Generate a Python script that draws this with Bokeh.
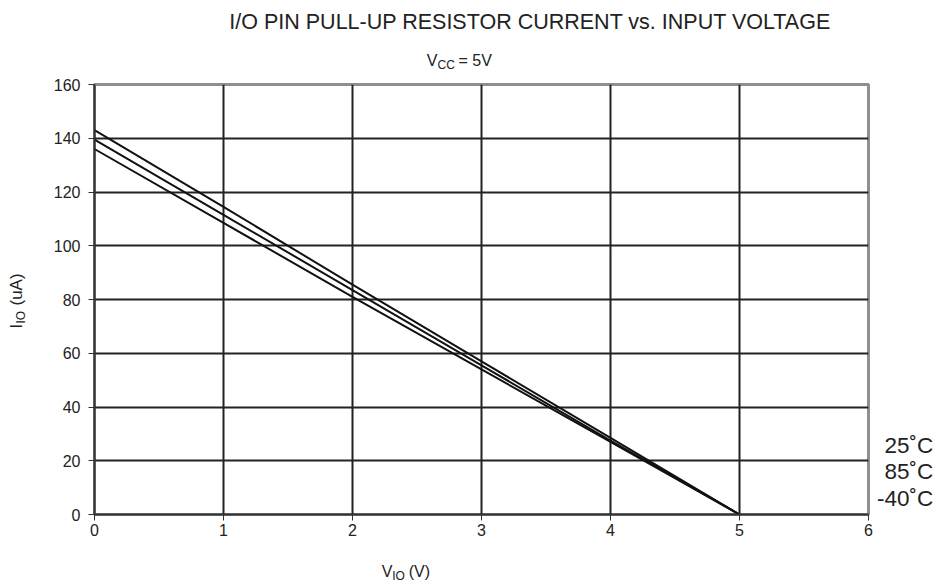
import math
from bokeh.plotting import figure
from bokeh.models import Label, FixedTicker, Range1d
from bokeh.embed import file_html
from bokeh.resources import INLINE

# Data
voltage = [0, 1, 2, 3, 4, 5]
i_25 = [143, 114.5, 85.5, 57, 28.5, 0]
i_85 = [139.5, 111.5, 83.5, 55.5, 27.5, 0]
i_m40 = [136, 108.5, 81, 54, 27, 0]
series_labels = ["25˚C", "85˚C", "-40˚C"]
x_ticks = [0, 1, 2, 3, 4, 5, 6]
y_ticks = [0, 20, 40, 60, 80, 100, 120, 140, 160]

FONT = "Liberation Sans"
DARK = "#222222"

W, H = 940, 586
p = figure(width=W, height=H, output_backend="svg", toolbar_location=None,
           x_range=Range1d(0, 6), y_range=Range1d(0, 160),
           min_border_left=92, min_border_right=W - 868, min_border_top=84,
           min_border_bottom=H - 514)
p.background_fill_color = "white"
p.border_fill_color = "white"
p.outline_line_color = "#8f8f8f"
p.outline_line_width = 3

for ax, ticks in ((p.xaxis, x_ticks), (p.yaxis, y_ticks)):
    ax.ticker = FixedTicker(ticks=ticks)
    ax.axis_line_color = "#333333"
    ax.axis_line_width = 2
    ax.major_tick_line_color = "#333333"
    ax.major_tick_line_width = 1
    ax.major_tick_out = 6
    ax.major_tick_in = 0
    ax.minor_tick_line_color = None
    ax.major_label_text_font = FONT
    ax.major_label_text_font_size = "16px"
    ax.major_label_text_color = DARK
p.yaxis.major_label_standoff = 8
p.xaxis.major_label_standoff = 3

p.xgrid.ticker = FixedTicker(ticks=[1, 2, 3, 4, 5])
p.ygrid.ticker = FixedTicker(ticks=[20, 40, 60, 80, 100, 120, 140])
for g in (p.xgrid, p.ygrid):
    g.grid_line_color = DARK
    g.grid_line_width = 2

for ys in (i_25, i_85, i_m40):
    p.line(voltage, ys, line_color="#111111", line_width=2)

# pixel -> data helpers for text placement in the side panels
def dx(px):
    return (px - 92) / (776 / 6)

def dy(py):
    return (514 - py) / (430 / 160)

def lab(side, px, py, text, size, **kw):
    p.add_layout(Label(x=dx(px), y=dy(py), text=text, text_font=FONT,
                       text_font_size=size, text_color=DARK, **kw), side)

# Title
lab("above", 529, 21, "I/O PIN PULL-UP RESISTOR CURRENT vs. INPUT VOLTAGE", "21.5px",
    text_align="center", text_baseline="middle")
# Subtitle V_CC = 5V
lab("above", 425, 60, "V", "16px", text_align="left", text_baseline="middle")
lab("above", 436, 64, "CC", "12px", text_align="left", text_baseline="middle")
lab("above", 457, 60, "= 5V", "16px", text_align="left", text_baseline="middle")

# x axis label V_IO (V)
lab("below", 380, 571, "V", "16px", text_align="left", text_baseline="middle")
lab("below", 390.5, 575, "IO", "12px", text_align="left", text_baseline="middle")
lab("below", 407, 571, "(V)", "16px", text_align="left", text_baseline="middle")

# y axis label I_IO (uA), rotated
rot = math.pi / 2
lab("left", 14, 328, "I", "16px", text_align="left", text_baseline="middle", angle=rot)
lab("left", 18, 323, "IO", "12px", text_align="left", text_baseline="middle", angle=rot)
lab("left", 14, 305, "(uA)", "17px", text_align="left", text_baseline="middle", angle=rot)

# Series labels on the right (one multi-line label)
lab("right", 933, 471, "\n".join(series_labels), "22.5px", text_align="right",
    text_baseline="middle", text_line_height=1.06)

open("out.html", "w").write(file_html(p, INLINE))
